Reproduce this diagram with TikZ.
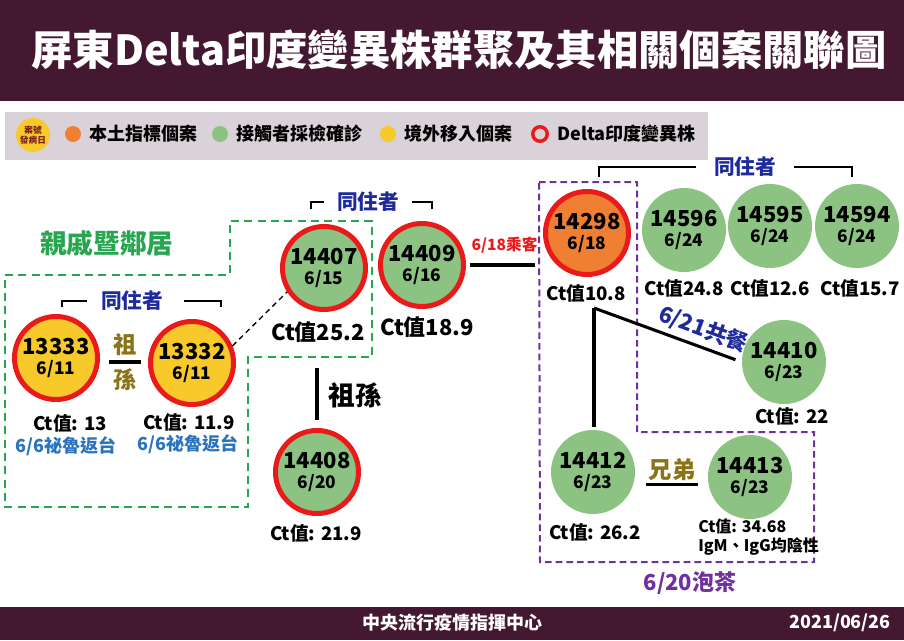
\documentclass[tikz,border=0pt]{standalone}
\usepackage{fontspec}
\setmainfont{Noto Sans CJK TC}
\usepackage{tikz}
\usetikzlibrary{positioning}

\definecolor{maroon}{HTML}{431830}
\definecolor{legendgray}{HTML}{D9D2D8}
\definecolor{greenc}{HTML}{8CC383}
\definecolor{yellowc}{HTML}{F7C92B}
\definecolor{orangec}{HTML}{EE7F33}
\definecolor{ringred}{HTML}{EB1A1A}
\definecolor{navy}{HTML}{1F2A9C}
\definecolor{tripblue}{HTML}{2A73C0}
\definecolor{famgreen}{HTML}{27A650}
\definecolor{teapurple}{HTML}{7030A0}
\definecolor{olive}{HTML}{8A7417}
\definecolor{keytext}{HTML}{7A1E1E}

\newcommand{\fsz}[1]{\fontsize{#1}{#1}\selectfont}
\newcommand{\casetxt}[2]{{\fontsize{16.5}{15}\selectfont #1}\\{\fontsize{13}{15}\selectfont #2}}

\begin{document}
\begin{tikzpicture}[x=0.75pt,y=-0.75pt,
  every node/.style={font=\bfseries},
  case/.style={circle,minimum size=63pt,inner sep=0pt,align=center,fill=greenc,
               font=\bfseries\fontsize{13}{15}\selectfont},
  delta/.style={case,draw=ringred,line width=3.75pt,minimum size=62.25pt},
  ctsmall/.style={font=\bfseries\fsz{14}},
  ctbig/.style={font=\bfseries\fsz{16.5}},
  trip/.style={font=\bfseries\fsz{13.5},text=tripblue},
  cohab/.style={font=\bfseries\fsz{15.5},text=navy},
  bracket/.style={line width=1.1pt},
  link/.style={line width=2.3pt},
  legtext/.style={font=\bfseries\fsz{13.5},inner sep=0pt},
  dot/.style={circle,inner sep=0pt,minimum size=12pt}]
\useasboundingbox (0,0) rectangle (904,640);
\fill[white] (0,0) rectangle (904,640);

% title and footer bars
\fill[maroon] (0,0) rectangle (904,101);
\node[text=white,font=\bfseries\fsz{31}] (title) at (459,50) {屏東Delta印度變異株群聚及其相關個案關聯圖};
\fill[maroon] (0,607) rectangle (904,640);
\node[text=white,font=\bfseries\fsz{13.5}] (org) at (452,623) {中央流行疫情指揮中心};
\node[text=white,font=\bfseries\fsz{13.5}] (date) at (840,623) {2021/06/26};

% legend
\fill[legendgray] (5,112) rectangle (708,160);
\node[circle,fill=yellowc,minimum size=25.5pt,inner sep=0pt,align=center,
      text=keytext,font=\bfseries\fontsize{6.5}{7.5}\selectfont] (lgkey) at (33,135) {案號\\發病日};
\node[dot,fill=orangec] (lgdot1) at (73,134) {};
\node[legtext,right=6pt of lgdot1] (lgtxt1) {本土指標個案};
\node[dot,fill=greenc] (lgdot2) at (220,134) {};
\node[legtext,right=6pt of lgdot2] (lgtxt2) {接觸者採檢確診};
\node[dot,fill=yellowc] (lgdot3) at (388,134) {};
\node[legtext,right=6pt of lgdot3] (lgtxt3) {境外移入個案};
\node[circle,draw=ringred,line width=2.6pt,minimum size=10.9pt,inner sep=0pt] (lgring) at (540,134) {};
\node[legtext,right=6pt of lgring] (lgtxt4) {Delta印度變異株};

% relatives and neighbours
\draw[famgreen,line width=1.5pt,dash pattern=on 6pt off 4pt]
  (5,275) -- (230,275) -- (230,221) -- (372,221) -- (372,357) -- (248,357) -- (248,507) -- (5,507) -- cycle;
\node[text=famgreen,font=\bfseries\fsz{20}] (fam) at (107,243) {親戚暨鄰居};

\node[delta,fill=yellowc] (c13333) at (56,358) {\casetxt{13333}{6/11}};
\node[delta,fill=yellowc] (c13332) at (192,363) {\casetxt{13332}{6/11}};
\node[text=olive,align=center,inner sep=3pt,font=\bfseries\fontsize{17.5}{26}\selectfont] (kin1) at (125,362) {祖\\孫};
\draw[link] (kin1.west) -- (kin1.east);
\node[ctsmall] (ct13333) at (70,423) {Ct值: 13};
\node[trip] (tr13333) at (66,446) {6/6祕魯返台};
\node[ctsmall] (ct13332) at (189,422) {Ct值: 11.9};
\node[trip] (tr13332) at (188,444) {6/6祕魯返台};
\node[cohab] (coh1) at (132,301) {同住者};
\draw[bracket,shorten >=7pt] (62,307) |- (coh1.west);
\draw[bracket,shorten >=12pt] (221,307) |- (coh1.east);

\node[delta] (c14407) at (324,268) {\casetxt{14407}{6/15}};
\node[delta] (c14409) at (422,265) {\casetxt{14409}{6/16}};
\node[ctbig] (ct14407) at (318,332) {Ct值25.2};
\node[ctbig] (ct14409) at (427,327) {Ct值18.9};
\node[cohab] (coh2) at (368,202) {同住者};
\draw[bracket,shorten >=6pt] (311,209) |- (coh2.west);
\draw[bracket,shorten >=6pt] (432,209) |- (coh2.east);
\draw[line width=1pt,dash pattern=on 4pt off 3pt] (c13332.23) -- (c14407.213);

\node[delta] (c14408) at (317,472) {\casetxt{14408}{6/20}};
\node[ctsmall] (ct14408) at (316,533) {Ct值: 21.9};
\draw[link,shorten <=16pt,shorten >=6pt] (ct14407.south -| c14408.north) -- (c14408.north);
\node[font=\bfseries\fsz{20}] (kin2) at (355,395) {祖孫};

% tea party cluster
\draw[teapurple,line width=1.5pt,dash pattern=on 5pt off 3pt]
  (539,182) -- (637,182) -- (637,432) -- (814,432) -- (814,562) -- (540,562) -- cycle;
\node[text=teapurple,font=\bfseries\fsz{16.5}] (tea) at (690,583) {6/20泡茶};

\node[delta,fill=orangec] (c14298) at (587,233) {\casetxt{14298}{6/18}};
\node[ctsmall] (ct14298) at (586,293) {Ct值10.8};
\draw[link,shorten <=3pt,shorten >=6pt] (c14409.east) -- (c14409.east -| c14298.west)
  node[midway,above=4pt,text=ringred,font=\bfseries\fsz{11.7}] (ride) {6/18乘客};

\node[case] (c14596) at (684,230) {\casetxt{14596}{6/24}};
\node[case] (c14595) at (770,226) {\casetxt{14595}{6/24}};
\node[case] (c14594) at (857,226) {\casetxt{14594}{6/24}};
\node[ctsmall] (ct14596) at (684,288) {Ct值24.8};
\node[ctsmall] (ct14595) at (770,288) {Ct值12.6};
\node[ctsmall] (ct14594) at (860,288) {Ct值15.7};
\node[cohab] (coh3) at (745,167) {同住者};
\draw[bracket,shorten >=10pt] (599,177) |- (coh3.west);
\draw[bracket,shorten >=10pt] (852,177) |- (coh3.east);

\node[case] (c14410) at (784,362) {\casetxt{14410}{6/23}};
\node[ctsmall] (ct14410) at (792,416) {Ct值: 22};
\node[case] (c14412) at (593,472) {\casetxt{14412}{6/23}};
\node[ctsmall] (ct14412) at (595,532) {Ct值: 26.2};
\node[case] (c14413) at (750,477) {\casetxt{14413}{6/23}};
\node[anchor=west,align=left,inner sep=0pt,font=\bfseries\fontsize{12}{14}\selectfont] (ct14413) at (698,537) {Ct值: 34.68\\IgM、IgG均陰性};
\node[text=olive,inner sep=2pt,font=\bfseries\fsz{17.5}] (kin3) at (672,470) {兄弟};
\draw[link] (kin3.south west) -- (kin3.south east);

\coordinate (split) at (594,308);
\draw[link,shorten >=2pt] (split) -- (split |- c14412.north);
\draw[link,shorten >=5pt] (split) -- (c14410.west)
  node[pos=0.7,above=2.5pt,sloped,inner sep=1pt,text=navy,font=\bfseries\fsz{16.5}] (meal) {6/21共餐};
\end{tikzpicture}
\end{document}
